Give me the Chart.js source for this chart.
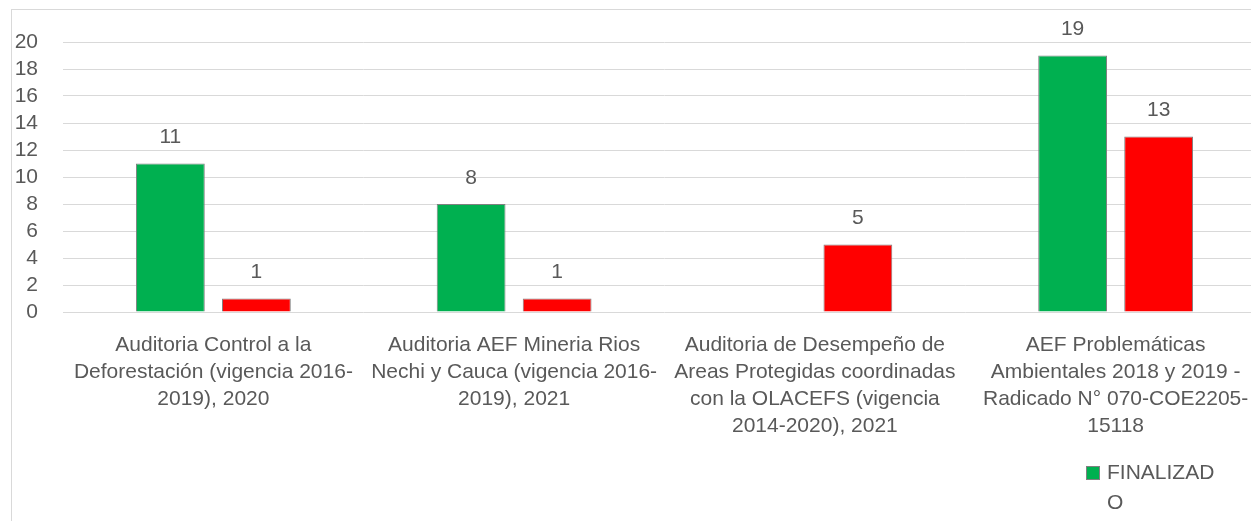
<!DOCTYPE html>
<html>
<head>
<meta charset="utf-8">
<script src="https://cdn.jsdelivr.net/npm/chart.js@4"></script>
<style>
  html, body { margin: 0; padding: 0; background: #fff; overflow: hidden; }
  #wrap { position: relative; width: 1300px; height: 521px; }
</style>
</head>
<body>
<div id="wrap"><canvas id="chart" width="1300" height="521"></canvas></div>
<script>
const FONT = '"Liberation Sans", Arial, sans-serif';
const TXT = '#595959';

// Auditorias (etiquetas ya partidas en lineas como en el original)
const categories = [
  ['Auditoria Control a la', 'Deforestación (vigencia 2016-', '2019), 2020'],
  ['Auditoria AEF Mineria Rios', 'Nechi y Cauca (vigencia 2016-', '2019), 2021'],
  ['Auditoria de Desempeño de', 'Areas Protegidas coordinadas', 'con la OLACEFS (vigencia', '2014-2020), 2021'],
  ['AEF Problemáticas', 'Ambientales 2018 y 2019 -', 'Radicado N° 070-COE2205-', '15118']
];
const finalizado = [11, 8, null, 19];
const otroEstado = [1, 1, 5, 13];
const yTicks = [0, 2, 4, 6, 8, 10, 12, 14, 16, 18, 20];

// Rahmen um das Diagramm (wie im Excel-Export)
const frame = {
  id: 'frame',
  beforeDraw(chart){
    const ctx = chart.ctx;
    ctx.save();
    ctx.strokeStyle = '#d9d9d9';
    ctx.lineWidth = 1;
    ctx.strokeRect(11.5, 9.5, 2000, 2000);
    ctx.restore();
  }
};

// Werte über den Balken
const valueLabels = {
  id: 'valueLabels',
  afterDatasetsDraw(chart){
    const ctx = chart.ctx;
    ctx.save();
    ctx.font = `21px ${FONT}`;
    ctx.fillStyle = TXT;
    ctx.textAlign = 'center';
    ctx.textBaseline = 'middle';
    chart.data.datasets.forEach((ds, i) => {
      chart.getDatasetMeta(i).data.forEach((bar, j) => {
        const v = ds.data[j];
        if (v == null) return;
        ctx.fillText(String(v), bar.x, bar.y - 26);
      });
    });
    ctx.restore();
  }
};

function wrapChars(ctx, text, maxW){
  const lines = [];
  let cur = '';
  for (const ch of text) {
    if (cur && ctx.measureText(cur + ch).width > maxW) { lines.push(cur); cur = ch; }
    else cur += ch;
  }
  if (cur) lines.push(cur);
  return lines;
}

// Legende unten rechts (zweiter Eintrag liegt ausserhalb des sichtbaren Bereichs)
const legend = {
  id: 'cornerLegend',
  afterDraw(chart){
    const ctx = chart.ctx;
    ctx.save();
    ctx.font = `21px ${FONT}`;
    ctx.textBaseline = 'middle';
    ctx.textAlign = 'left';
    chart.data.datasets.forEach((ds, i) => {
      const x = 1086 + i * 190, y = 466;
      ctx.fillStyle = ds.backgroundColor;
      ctx.fillRect(x, y, 14, 14);
      ctx.strokeStyle = ds.borderColor;
      ctx.lineWidth = 1;
      ctx.strokeRect(x + 0.5, y + 0.5, 13, 13);
      ctx.fillStyle = TXT;
      wrapChars(ctx, ds.label, 115).forEach((ln, k) => ctx.fillText(ln, x + 21, y + 7 + k * 30));
    });
    ctx.restore();
  }
};

new Chart(document.getElementById('chart'), {
  type: 'bar',
  data: {
    labels: categories,
    datasets: [
      { label: 'FINALIZADO', data: finalizado, backgroundColor: '#00b050', borderColor: '#808080', borderWidth: 1,
        categoryPercentage: 0.572, barPercentage: 0.8 },
      { label: 'EN PROCESO', data: otroEstado, backgroundColor: '#ff0000', borderColor: '#808080', borderWidth: 1,
        categoryPercentage: 0.572, barPercentage: 0.8 }
    ]
  },
  options: {
    responsive: false,
    animation: false,
    layout: { padding: { top: 42, right: 34, bottom: 0, left: 0 } },
    plugins: { legend: { display: false }, tooltip: { enabled: false } },
    scales: {
      x: {
        grid: { display: false, drawTicks: false },
        border: { display: false },
        ticks: { color: TXT, font: { family: FONT, size: 21, lineHeight: 27/21 }, padding: 20, maxRotation: 0, autoSkip: false },
        afterFit(s){ s.height = 209; }
      },
      y: {
        min: 0, max: 20,
        grid: { color: '#d9d9d9', lineWidth: 1, drawTicks: false },
        border: { display: false },
        afterBuildTicks(s){ s.ticks = yTicks.map(v => ({ value: v })); },
        ticks: { color: TXT, font: { family: FONT, size: 21 }, padding: 25, autoSkip: false },
        afterFit(s){ s.width = 63; }
      }
    }
  },
  plugins: [frame, valueLabels, legend]
});
</script>
</body>
</html>
